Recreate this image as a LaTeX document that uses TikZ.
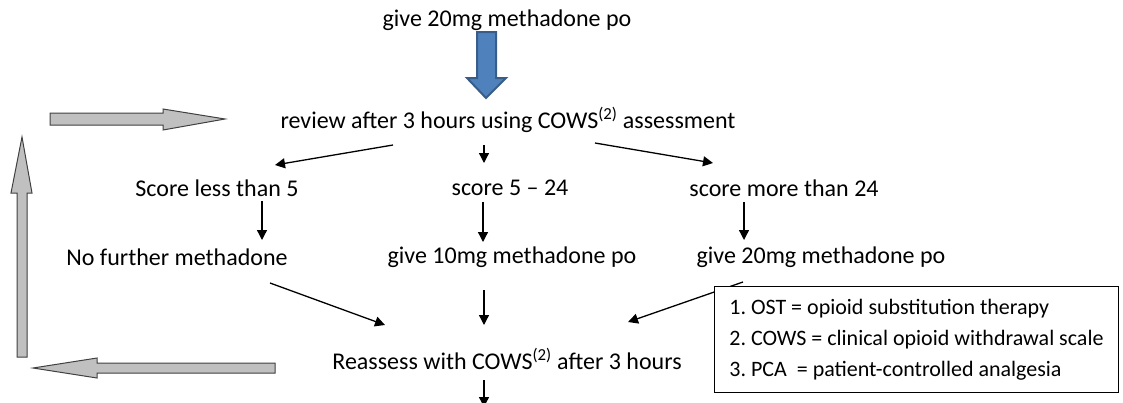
\documentclass[tikz,border=0pt]{standalone}
\usepackage{fontspec}
\setmainfont{Carlito}
\usepackage{tikz}
\usetikzlibrary{arrows.meta,calc}

\definecolor{doseblue}{HTML}{4F81BD}
\definecolor{doseblueline}{HTML}{385D8A}
\definecolor{loopgray}{HTML}{C0C0C0}
\definecolor{loopline}{HTML}{404040}

\begin{document}
\frenchspacing
\begin{tikzpicture}[x=1pt,y=-1pt,
    step text/.style={font=\fontsize{24}{28}\selectfont,inner sep=0pt},
    flow/.style={-{Triangle[length=10pt,width=10pt]},line width=1.3pt},
    loop arrow/.style={fill=loopgray,draw=loopline,line width=1pt,line join=miter},
    legendbox/.style={draw,fill=white,line width=1pt,font=\fontsize{22}{31}\selectfont,
        align=left,minimum width=404pt,minimum height=106pt,anchor=north west}]
\useasboundingbox (0,0) rectangle (1123,402);

% Starting dose
\node[step text] (start) at (507,20) {give 20mg methadone po};
\draw[fill=doseblue,draw=doseblueline,line width=2pt]
    (477,32) -- (496,32) -- (496,78) -- (506,78) -- (486,98) -- (467,78) -- (477,78) -- cycle;

% First review and the three score bands
\node[step text] (review) at (508,120) {review after 3 hours using COWS\textsuperscript{(2)} assessment};
\node[step text] (low) at (217,188) {Score less than 5};
\node[step text] (mid) at (510,188) {score 5 -- 24};
\node[step text] (high) at (784,188) {score more than 24};

\draw[flow] ($(review)+(-115,25)$) -- ($(low)+(58,-23)$);
\draw[flow] ($(review)+(-24,25)$) -- ($(mid)+(-26,-25)$);
\draw[flow] ($(review)+(87,23)$) -- ($(high)+(-71,-25)$);

% What to give for each band
\node[step text] (nofurther) at (177,257) {No further methadone};
\node[step text] (give10) at (512,257) {give 10mg methadone po};
\node[step text] (give20) at (821,257) {give 20mg methadone po};

\draw[flow] ($(low)+(45,13)$) -- ($(nofurther)+(85,-17)$);
\draw[flow] ($(mid)+(-27,14)$) -- ($(give10)+(-29,-15)$);
\draw[flow] ($(high)+(-40,14)$) -- ($(give20)+(-77,-17)$);

% Reassessment
\node[step text] (reassess) at (507,359) {Reassess with COWS\textsuperscript{(2)} after 3 hours};
\coordinate (next) at ($(reassess)+(-23,48)$);

\draw[flow] ($(nofurther)+(93,26)$) -- ($(reassess)+(-122,-34)$);
\draw[flow] ($(give10)+(-28,33)$) -- ($(reassess)+(-23,-34)$);
\draw[flow] ($(give20)+(-78,25)$) -- ($(reassess)+(121,-37)$);
\draw[flow] ($(reassess)+(-23,21)$) -- (next);

% Repeat loop on the left
\draw[loop arrow] (275,363) -- (97,363) -- (97,358) -- (33,368) -- (97,378) -- (97,373) -- (275,373) -- cycle;
\draw[loop arrow] (17,357) -- (17,193) -- (11,193) -- (22,137) -- (32,193) -- (27,193) -- (27,357) -- cycle;
\draw[loop arrow] (50,113) -- (163,113) -- (163,109) -- (225,119) -- (163,130) -- (163,125) -- (50,125) -- cycle;

% Abbreviations
\node[legendbox] (legend) at (714,286) {1. OST = opioid substitution therapy\\
2. COWS = clinical opioid withdrawal scale\\
3. PCA\ \ = patient-controlled analgesia};
\end{tikzpicture}
\end{document}
